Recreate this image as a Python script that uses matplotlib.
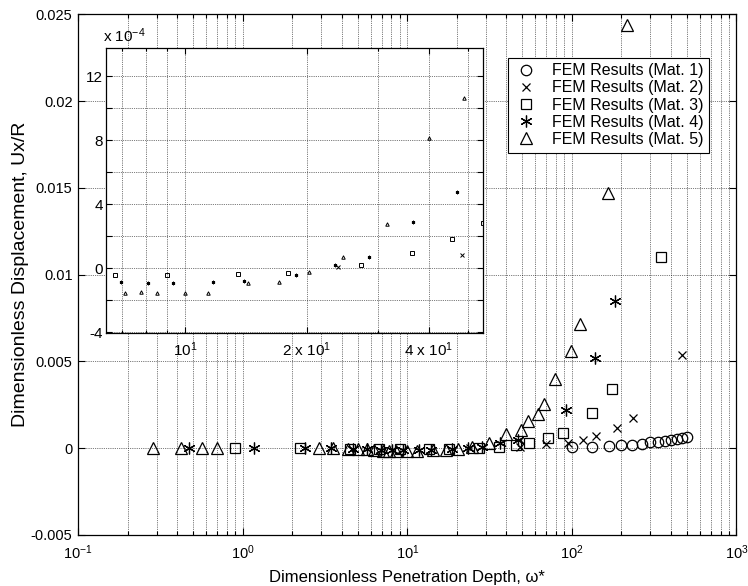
import matplotlib.pyplot as plt
from matplotlib.ticker import (FixedLocator, FixedFormatter, FuncFormatter,
                               MultipleLocator, NullFormatter)

plt.rcParams['font.family'] = ['Liberation Sans', 'DejaVu Sans']
plt.rcParams['mathtext.fontset'] = 'custom'
plt.rcParams['mathtext.rm'] = 'Liberation Sans'
plt.rcParams['mathtext.it'] = 'Liberation Sans:italic'
plt.rcParams['axes.unicode_minus'] = False
plt.rcParams['font.size'] = 10.5

## data (omega*, Ux/R)
w1 = [100, 133, 167, 200, 233, 267, 300, 333, 367, 400, 433, 467, 500]
u1 = [0.00005, 0.00005, 0.00012, 0.00017, 0.00021, 0.00027, 0.00033,
      0.00035, 0.0004, 0.00046, 0.00052, 0.00056, 0.00062]

w2 = [23.9, 48.2, 69.7, 94.3, 116, 141, 188, 234, 468]
u2 = [0.000004, 0.00008, 0.00023, 0.0003, 0.0005, 0.00071, 0.00117,
      0.00175, 0.00536]

w3 = [0.9, 2.23, 4.5, 6.72, 9.0, 13.5, 18.0, 27.2, 36.3, 45.6, 54.5, 71.3,
      88, 133, 176, 349]
u3 = [0, 0, -0.00003, -0.000044, -0.000044, -0.00004, -0.00003, 0.000019,
      0.000092, 0.000179, 0.000283, 0.00059, 0.0009, 0.00203, 0.00344, 0.01099]

w4 = [0.47, 1.17, 2.39, 3.44, 4.67, 5.69, 6.95, 8.12, 9.36, 11.7, 14.0, 18.8,
      23.4, 28.4, 36.5, 46.9, 92, 138, 183]
u4 = [0, 0, 0, 0, -0.00005, -0.00007, -0.00009, -0.000092, -0.000092,
      -0.00009, -0.00008, -0.000044, 0.000019, 0.000071, 0.00029, 0.000473,
      0.00223, 0.0052, 0.0085]

w5 = [0.286, 0.422, 0.564, 0.701, 2.89, 3.54, 4.38, 5.04, 5.7, 6.3, 7.11,
      7.79, 8.51, 10.0, 11.4, 14.3, 17.1, 20.2, 24.6, 31.5, 40.0, 48.9, 53.9,
      62.5, 67.9, 78.9, 98.7, 112.5, 166, 215]
u5 = [0, 0, 0, 0, 0, 0, -0.00003, -0.00005, -0.00007, -0.0001, -0.000154,
      -0.00015, -0.000154, -0.000154, -0.000154, -0.000096, -0.000085,
      -0.000023, 0.000071, 0.000273, 0.000815, 0.00106, 0.00156, 0.00196,
      0.00257, 0.00401, 0.00559, 0.00718, 0.01473, 0.02437]

labels = ['FEM Results (Mat. 1)', 'FEM Results (Mat. 2)', 'FEM Results (Mat. 3)',
          'FEM Results (Mat. 4)', 'FEM Results (Mat. 5)']
series = [(w1, u1), (w2, u2), (w3, u3), (w4, u4), (w5, u5)]
markers = ['o', 'x', 's', (6, 2, 0), '^']
sizes = [7.5, 6, 6.5, 8.5, 8]

fig = plt.figure(figsize=(7.48, 5.86), dpi=100)
ax = fig.add_axes([78.1 / 748, 1 - 535 / 586, 658.4 / 748, 520.7 / 586])

for (w, u), m, s, lab in zip(series, markers, sizes, labels):
    ax.plot(w, u, ls='none', marker=m, ms=s, mfc='none', mec='k', mew=0.9,
            color='k', label=lab)

ax.set_xscale('log')
ax.set_xlim(0.1, 1000)
ax.set_ylim(-0.005, 0.025)
ax.yaxis.set_major_locator(MultipleLocator(0.005))
ax.yaxis.set_major_formatter(FuncFormatter(lambda v, p: '%g' % (round(v, 4) + 0.0)))
ax.grid(True, which='major', axis='y', ls=':', color='k', lw=0.5)
ax.grid(True, which='both', axis='x', ls=':', color='k', lw=0.5)
ax.tick_params(which='both', direction='in', top=True, right=True, width=0.8)
ax.tick_params(which='major', length=5)
ax.tick_params(which='minor', length=3)
ax.tick_params(axis='x', pad=6)
ax.tick_params(axis='y', pad=4)
for sp in ax.spines.values():
    sp.set_linewidth(0.9)

ax.set_xlabel('Dimensionless Penetration Depth, ω*', fontsize=12)
ax.set_ylabel('Dimensionless Displacement, Ux/R', fontsize=14)
ax.xaxis.set_label_coords(0.5, -0.068)
ax.yaxis.set_label_coords(-0.075, 0.5)

leg = ax.legend(loc='upper left', bbox_to_anchor=(0.653, 0.917), borderaxespad=0,
                fancybox=False, edgecolor='k', framealpha=1, numpoints=1,
                handlelength=1.6, handletextpad=0.8, labelspacing=0.14,
                borderpad=0.35, fontsize=11.5)
leg.get_frame().set_linewidth(0.8)

## inset zoom
ins = fig.add_axes([105.7 / 748, 1 - 333.3 / 586, 377.3 / 748, 285.6 / 586])
for (w, u), m in zip(series, markers):
    ins.plot(w, u, ls='none', marker=m, ms=2.5, mfc='none', mec='k', mew=0.7,
             color='k')

ins.set_xscale('log')
ins.set_xlim(6.37, 54.4)
ins.set_ylim(-4.08e-4, 13.77e-4)
ins.xaxis.set_major_locator(FixedLocator([10, 20, 40]))
ins.xaxis.set_major_formatter(FixedFormatter(['10$^{1}$', '2 x 10$^{1}$', '4 x 10$^{1}$']))
ins.xaxis.set_minor_locator(FixedLocator([7, 8, 9, 30, 50]))
ins.xaxis.set_minor_formatter(NullFormatter())
ins.yaxis.set_major_locator(MultipleLocator(2e-4))
ins.yaxis.set_major_formatter(FuncFormatter(
    lambda v, p: '%d' % round(v * 1e4) if round(v * 1e4) % 4 == 0 else ''))
ins.grid(True, which='both', ls=':', color='k', lw=0.5)
ins.tick_params(which='both', direction='in', top=True, right=True, width=0.8)
ins.tick_params(which='major', length=4, labelsize=11)
ins.tick_params(which='minor', length=2.5)
ins.tick_params(axis='x', pad=5)
ins.tick_params(axis='y', pad=2)
for sp in ins.spines.values():
    sp.set_linewidth(0.9)
ins.text(-0.007, 1.01, 'x 10$^{-4}$', transform=ins.transAxes, ha='left',
         va='bottom', fontsize=11)

plt.savefig('out.png', dpi=100)
